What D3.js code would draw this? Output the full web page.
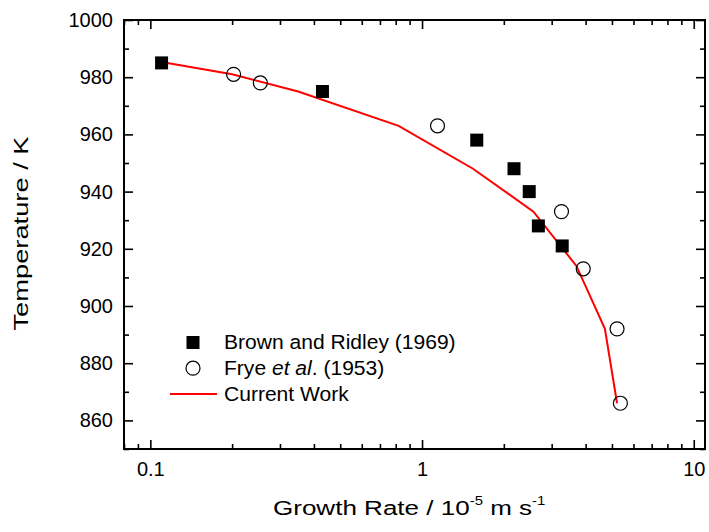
<!DOCTYPE html>
<html>
<head>
<meta charset="utf-8">
<script src="https://cdn.jsdelivr.net/npm/d3@7"></script>
<style>
  body { margin: 0; background: #fff; }
  svg { font-family: Arial, "Liberation Sans", sans-serif; }
</style>
</head>
<body>
<svg id="chart" width="709" height="532"></svg>
<script>
// data
const brownRate = [0.11, 0.43, 1.59, 2.18, 2.48, 2.68, 3.28];
const brownTemp = [985, 975, 958, 948, 940, 928, 921];

const fryeRate = [0.2025, 0.254, 1.14, 3.26, 3.92, 5.22, 5.37];
const fryeTemp = [981, 978, 963, 933, 913, 892, 866];

const modelRate = [0.11, 0.2, 0.35, 0.82, 1.54, 2.57, 3.70, 4.71, 5.22];
const modelTemp = [985.3, 981, 975, 963, 948, 933, 914, 892, 866];

const xMajor = [0.1, 1, 10];
const xMinor = [0.08, 0.09, 0.2, 0.3, 0.4, 0.5, 0.6, 0.7, 0.8, 0.9, 2, 3, 4, 5, 6, 7, 8, 9];
const yMajor = [860, 880, 900, 920, 940, 960, 980, 1000];
const yMinor = [850, 870, 890, 910, 930, 950, 970, 990];

const legendItems = ["brown", "frye", "model"];

const svg = d3.select("#chart");
const plotLeft = 124, plotRight = 705, plotTop = 20, plotBottom = 449;

const x = d3.scaleLog().domain([0.08, 11]).range([plotLeft, plotRight]);
const y = d3.scaleLinear().domain([850, 1000]).range([plotBottom, plotTop]);

const fmtX = d => (d < 1 ? d3.format(".1f")(d) : d3.format("d")(d));

// the original font is a bit wider than Arial, so stretch text sideways around its anchor
function stretch(sel, sx) {
    sel.each(function () {
        const t = d3.select(this);
        const bx = +t.attr("x") || 0, by = +t.attr("y") || 0;
        t.attr("transform", `translate(${bx},${by}) scale(${sx},1) translate(${-bx},${-by})`);
    });
}

function styleAxis(g) {
    g.select(".domain").remove();
    g.selectAll("line").attr("stroke", "#000").attr("stroke-width", 1.6);
    g.selectAll("text").attr("font-size", 20).attr("fill", "#000");
}

// bottom
svg.append("g").attr("transform", `translate(0,${plotBottom})`)
    .call(d3.axisBottom(x).tickValues(xMajor).tickSize(-9).tickPadding(13).tickFormat(fmtX))
    .call(styleAxis);
svg.append("g").attr("transform", `translate(0,${plotBottom})`)
    .call(d3.axisBottom(x).tickValues(xMinor).tickSize(-5).tickFormat(""))
    .call(styleAxis);
// top
svg.append("g").attr("transform", `translate(0,${plotTop})`)
    .call(d3.axisTop(x).tickValues(xMajor).tickSize(-9).tickFormat(""))
    .call(styleAxis);
svg.append("g").attr("transform", `translate(0,${plotTop})`)
    .call(d3.axisTop(x).tickValues(xMinor).tickSize(-5).tickFormat(""))
    .call(styleAxis);
// left
svg.append("g").attr("transform", `translate(${plotLeft},0)`)
    .call(d3.axisLeft(y).tickValues(yMajor).tickSize(-9).tickPadding(11).tickFormat(d3.format("d")))
    .call(styleAxis);
svg.append("g").attr("transform", `translate(${plotLeft},0)`)
    .call(d3.axisLeft(y).tickValues(yMinor).tickSize(-5).tickFormat(""))
    .call(styleAxis);
// right
svg.append("g").attr("transform", `translate(${plotRight},0)`)
    .call(d3.axisRight(y).tickValues(yMajor).tickSize(-9).tickFormat(""))
    .call(styleAxis);
svg.append("g").attr("transform", `translate(${plotRight},0)`)
    .call(d3.axisRight(y).tickValues(yMinor).tickSize(-5).tickFormat(""))
    .call(styleAxis);

// frame
svg.append("rect")
    .attr("x", plotLeft).attr("y", plotTop)
    .attr("width", plotRight - plotLeft).attr("height", plotBottom - plotTop)
    .attr("fill", "none").attr("stroke", "#000").attr("stroke-width", 2);

// model line
const line = d3.line().x(d => x(d[0])).y(d => y(d[1]));
svg.append("path")
    .datum(d3.zip(modelRate, modelTemp))
    .attr("d", line)
    .attr("fill", "none").attr("stroke", "#ff0000").attr("stroke-width", 2);

// brown and ridley squares
const sq = 13;
svg.append("g").selectAll("rect")
    .data(d3.zip(brownRate, brownTemp))
    .join("rect")
    .attr("x", d => x(d[0]) - sq / 2)
    .attr("y", d => y(d[1]) - sq / 2)
    .attr("width", sq).attr("height", sq)
    .attr("fill", "#000");

// frye circles
svg.append("g").selectAll("circle")
    .data(d3.zip(fryeRate, fryeTemp))
    .join("circle")
    .attr("cx", d => x(d[0]))
    .attr("cy", d => y(d[1]))
    .attr("r", 7)
    .attr("fill", "none").attr("stroke", "#000").attr("stroke-width", 1.2);

// legend
const legend = svg.append("g");
const rowY = i => 342.5 + i * 25.7;
legendItems.forEach((key, i) => {
    const cy = rowY(i);
    if (key === "brown") {
        legend.append("rect").attr("x", 193 - sq / 2).attr("y", cy - sq / 2)
            .attr("width", sq).attr("height", sq).attr("fill", "#000");
    } else if (key === "frye") {
        legend.append("circle").attr("cx", 193).attr("cy", cy).attr("r", 7)
            .attr("fill", "none").attr("stroke", "#000").attr("stroke-width", 1.2);
    } else {
        legend.append("line").attr("x1", 170).attr("x2", 217).attr("y1", cy).attr("y2", cy)
            .attr("stroke", "#ff0000").attr("stroke-width", 2);
    }
    const t = legend.append("text").attr("x", 224).attr("y", cy + 7)
        .attr("font-size", 19.5).attr("fill", "#000");
    if (key === "brown") t.text("Brown and Ridley (1969)");
    if (key === "frye") {
        t.append("tspan").text("Frye ");
        t.append("tspan").attr("font-style", "italic").text("et al");
        t.append("tspan").text(". (1953)");
    }
    if (key === "model") t.text("Current Work");
    stretch(t, 1.08);
});

// axis titles
const xt = svg.append("text")
    .attr("x", 273).attr("y", 515)
    .attr("font-size", 21).attr("fill", "#000");
xt.append("tspan").text("Growth Rate / 10");
xt.append("tspan").attr("font-size", 12).attr("dy", -10).text("-5");
xt.append("tspan").attr("dy", 10).text(" m s");
xt.append("tspan").attr("font-size", 12).attr("dy", -10).text("-1");
stretch(xt, 1.24);

svg.append("text")
    .attr("transform", `translate(28,${(plotTop + plotBottom) / 2 - 1}) rotate(-90) scale(1.3,1)`)
    .attr("text-anchor", "middle")
    .attr("font-size", 21).attr("fill", "#000")
    .text("Temperature / K");
</script>
</body>
</html>
